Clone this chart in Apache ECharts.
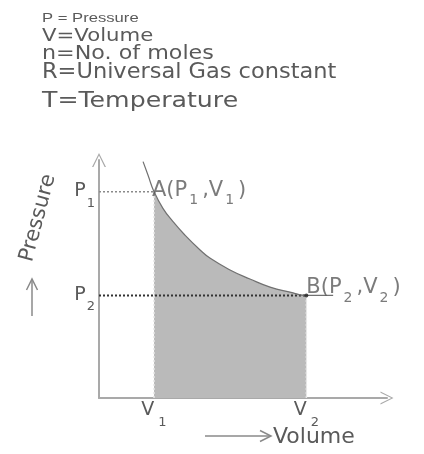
<!DOCTYPE html>
<html>
<head>
<meta charset="utf-8">
<script src="https://cdn.jsdelivr.net/npm/echarts@6/dist/echarts.min.js"></script>
<style>
html,body{margin:0;padding:0;background:#fff;}
#chart{width:424px;height:454px;}
</style>
</head>
<body>
<div id="chart"></div>
<script>
// ---- data (arbitrary units 0..10) ----
const legendLines = ['P = Pressure', 'V=Volume', 'n=No. of moles', 'R=Universal Gas constant', 'T=Temperature'];
const volumeTicks = [1.91, 7.20];          // V1, V2
const volumeTickSubs = ['1', '2'];
const pressureTicks = [8.67, 4.31];        // P1, P2
const pressureTickSubs = ['1', '2'];
const curveVolume   = [1.53, 1.70, 1.91, 2.22, 2.57, 2.98, 3.51, 3.85, 4.55, 5.24, 5.94, 6.63, 7.20, 8.13];
const curvePressure = [9.93, 9.37, 8.67, 7.97, 7.41, 6.85, 6.22, 5.88, 5.38, 5.00, 4.66, 4.45, 4.31, 4.31];
const pointNames = ['A', 'B'];

const TXT = '#5a5a5a';
const FONT = 'DejaVu Sans';

const curve = curveVolume.map((v, i) => [v, curvePressure[i]]);
const shaded = curve.filter(p => p[0] >= volumeTicks[0] - 1e-9 && p[0] <= volumeTicks[1] + 1e-9);
const labelOffsets = [[-2, -1], [-2, -7]];
const pts = pointNames.map((n, i) => ({
  name: n, value: [volumeTicks[i], pressureTicks[i]], sub: pressureTickSubs[i],
  label: { offset: labelOffsets[i] }
}));

function nearestIdx(arr, v) {
  let b = 0;
  arr.forEach((a, i) => { if (Math.abs(a - v) < Math.abs(arr[b] - v)) b = i; });
  return b;
}
const pRich = {
  m: { fontFamily: FONT, fontSize: 19, lineHeight: 20, color: TXT, verticalAlign: 'top' },
  s: { fontFamily: FONT, fontSize: 13, lineHeight: 13, color: TXT, verticalAlign: 'top', padding: [15, 0, 0, 1] }
};
const vRich = {
  m: { fontFamily: FONT, fontSize: 19, lineHeight: 20, color: TXT, verticalAlign: 'top' },
  s: { fontFamily: FONT, fontSize: 13, lineHeight: 13, color: TXT, verticalAlign: 'top', padding: [15, 0, 0, 4] }
};
const chevron = 'path://M0,20 L10,0 L20,20 L18,20 L10,3.5 L2,20 Z';

const chart = echarts.init(document.getElementById('chart'), null, { renderer: 'canvas' });

const legendGraphics = [
  { size: 13, fam: 'Liberation Sans', y: 18, sx: 1.28 },
  { size: 18, fam: FONT, y: 36, sx: 1.18 },
  { size: 19, fam: FONT, y: 54, sx: 1.17 },
  { size: 21, fam: FONT, y: 73, sx: 1.07 },
  { size: 21, fam: FONT, y: 102, sx: 1.2 }
].map((c, i) => ({
  type: 'text', x: 42, y: c.y, scaleX: c.sx, silent: true,
  style: { text: legendLines[i], x: 0, y: 0, fill: TXT, font: c.size + 'px "' + c.fam + '"', textVerticalAlign: 'middle' }
}));

chart.setOption({
  animation: false,
  backgroundColor: '#fff',
  grid: { left: 99, right: 37, top: 160, bottom: 56, outerBoundsMode: 'none', containLabel: false },
  xAxis: {
    type: 'value', min: 0, max: 10,
    splitLine: { show: false }, axisTick: { show: false },
    axisLine: { show: true, onZero: false, lineStyle: { color: '#a9a9a9', width: 2 }, symbol: ['none', chevron], symbolSize: [13, 18] },
    axisLabel: {
      customValues: volumeTicks, margin: 3,
      formatter: v => '{m|V}{s|' + volumeTickSubs[nearestIdx(volumeTicks, v)] + '}',
      rich: vRich
    }
  },
  yAxis: {
    type: 'value', min: 0, max: 10,
    splitLine: { show: false }, axisTick: { show: false },
    axisLine: { show: true, onZero: false, lineStyle: { color: '#a9a9a9', width: 2 }, symbol: ['none', chevron], symbolSize: [14, 14] },
    axisLabel: {
      customValues: pressureTicks, margin: 4,
      formatter: v => '{m|P}{s|' + pressureTickSubs[nearestIdx(pressureTicks, v)] + '}',
      rich: pRich
    }
  },
  series: [
    { type: 'line', data: shaded, symbol: 'none', smooth: 0.5, lineStyle: { width: 0 }, areaStyle: { color: '#bababa', opacity: 1, origin: 'start' }, z: 1 },
    { type: 'line', data: [[0, pressureTicks[0]], [volumeTicks[0], pressureTicks[0]]], symbol: 'none', lineStyle: { color: '#8a8a8a', width: 1.5, type: [2, 2] }, z: 3 },
    { type: 'line', data: [[0, pressureTicks[1]], [volumeTicks[1], pressureTicks[1]]], symbol: 'none', lineStyle: { color: '#333', width: 2, type: [2, 2] }, z: 3 },
    { type: 'line', data: [[volumeTicks[0], 0], [volumeTicks[0], pressureTicks[0]]], symbol: 'none', lineStyle: { color: '#e6e6e6', width: 1.5, type: [2, 2] }, z: 3 },
    { type: 'line', data: [[volumeTicks[1], 0], [volumeTicks[1], pressureTicks[1]]], symbol: 'none', lineStyle: { color: '#e6e6e6', width: 1.5, type: [2, 2] }, z: 3 },
    { type: 'line', data: curve, symbol: 'none', smooth: 0.5, clip: false, lineStyle: { color: '#707070', width: 1.2 }, z: 4 },
    {
      type: 'scatter', data: pts, symbolSize: (v, p) => p.dataIndex === 1 ? 4 : 0, itemStyle: { color: '#222' }, z: 5,
      label: {
        show: true, position: 'right', distance: 0,
        formatter: p => '{m|' + p.name + '(P}{s|' + p.data.sub + '}{m|,V}{s|' + p.data.sub + '}{m|)}',
        rich: {
          m: { fontFamily: FONT, fontSize: 21, lineHeight: 22, color: TXT, verticalAlign: 'top' },
          s: { fontFamily: FONT, fontSize: 14, lineHeight: 14, color: TXT, verticalAlign: 'top', padding: [14, 4, 0, 2] }
        }
      }
    }
  ],
  graphic: legendGraphics.concat([
    { type: 'text', x: 38, y: 218, rotation: 75 * Math.PI / 180, silent: true,
      style: { text: 'Pressure', x: 0, y: 0, fill: TXT, font: '21px "DejaVu Sans"', textAlign: 'center', textVerticalAlign: 'middle' } },
    { type: 'line', silent: true, shape: { x1: 32, y1: 316, x2: 32, y2: 279 }, style: { stroke: '#8a8a8a', lineWidth: 1.5 } },
    { type: 'polyline', silent: true, shape: { points: [[26.5, 290], [32, 279], [37.5, 290]] }, style: { stroke: '#8a8a8a', lineWidth: 1.5, fill: null } },
    { type: 'line', silent: true, shape: { x1: 205, y1: 436, x2: 271, y2: 436 }, style: { stroke: '#8a8a8a', lineWidth: 1.5 } },
    { type: 'polyline', silent: true, shape: { points: [[260, 430.5], [271, 436], [260, 441.5]] }, style: { stroke: '#8a8a8a', lineWidth: 1.5, fill: null } },
    { type: 'text', x: 273, y: 437, silent: true,
      style: { text: 'Volume', x: 0, y: 0, fill: TXT, font: '22px "DejaVu Sans"', textVerticalAlign: 'middle' } }
  ])
});
</script>
</body>
</html>
